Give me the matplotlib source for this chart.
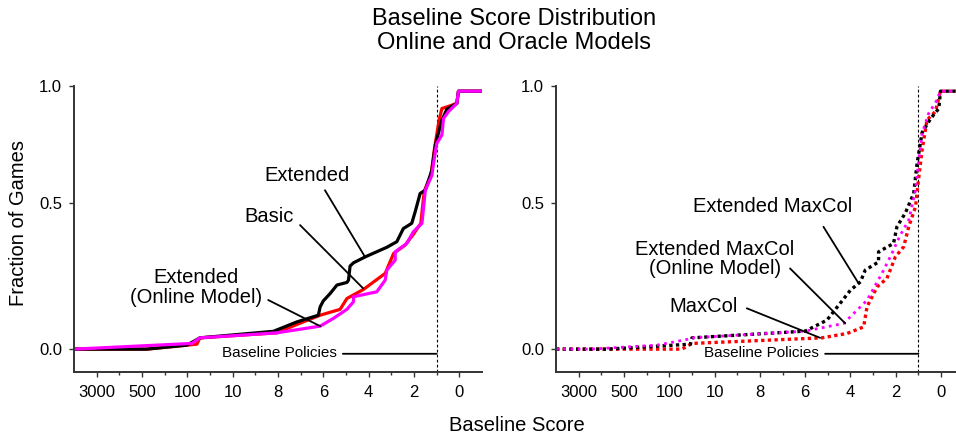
import matplotlib
matplotlib.use("Agg")
import matplotlib.pyplot as plt
import numpy as np

plt.rcParams['font.family'] = ['Liberation Sans', 'DejaVu Sans']

# x axis: baseline score shown on a stretched, reversed scale
score_anchors = [-1, 0, 2, 4, 6, 8, 10, 100, 500, 3000, 4250]
pos_anchors = [8.5, 8, 7, 6, 5, 4, 3, 2, 1, 0, -0.5]
tick_scores = [3000, 500, 100, 10, 8, 6, 4, 2, 0]
tick_labels = ['3000', '500', '100', '10', '8', '6', '4', '2', '0']

# y axis: fraction of games (upper half drawn slightly compressed)
frac_anchors = [-1, 0, 0.5, 1, 2]
frac_pos = [-1.1114, 0, 0.5557, 1, 1.8886]

# left panel: online vs oracle models
basic_s = [4250, 460, 81, 75, 8.06, 7.24, 6.14, 5.26, 4.96, 4.23, 3.27, 2.9, 2.4, 2.05, 1.7,
           1.55, 1.25, 1.1, 0.9, 0.77, 0.48, 0.11, 0.04, -1]
basic_f = [0, 0, 0.017, 0.0386, 0.0557, 0.082, 0.116, 0.136, 0.173, 0.204, 0.259, 0.327, 0.355,
           0.39, 0.43, 0.55, 0.62, 0.73, 0.85, 0.903, 0.912, 0.925, 0.977, 0.977]
ext_s = [4250, 460, 104, 75, 8.2, 7.17, 6.22, 6.14, 6.0, 5.7, 5.4, 4.96, 4.89, 4.82, 4.67, 4.16,
         3.2, 2.76, 2.47, 2.1, 1.95, 1.73, 1.5, 1.21, 1.06, 0.77, 0.55, 0.11, 0.04, -1]
ext_f = [0, 0, 0.0137, 0.0386, 0.061, 0.093, 0.116, 0.1446, 0.165, 0.19, 0.219, 0.228, 0.236,
         0.284, 0.295, 0.315, 0.348, 0.367, 0.412, 0.43, 0.469, 0.54, 0.554, 0.64, 0.747, 0.853,
         0.9, 0.925, 0.977, 0.977]
online_s = [4250, 91, 75, 8.06, 6.14, 5.56, 4.96, 4.67, 4.67, 3.64, 3.27, 3.2, 2.83, 2.83, 2.32,
            2.03, 1.65, 1.5, 1.21, 1.14, 1.0, 0.77, 0.7, 0.48, 0.11, 0.04, -1]
online_f = [0, 0.0195, 0.0386, 0.0557, 0.0786, 0.105, 0.136, 0.162, 0.179, 0.196, 0.236, 0.27,
            0.304, 0.3325, 0.361, 0.401, 0.43, 0.554, 0.618, 0.668, 0.753, 0.79, 0.86, 0.89,
            0.925, 0.977, 0.977]

# right panel: MaxCol variants
maxcol_s = [4250, 74.8, 55, 5.26, 4.15, 3.42, 3.27, 2.82, 2.39, 2.02, 1.65, 1.43, 1.13, 1.0,
            0.84, 0.62, 0.25, 0.03, -1]
maxcol_f = [0, 0, 0.0195, 0.0386, 0.0536, 0.076, 0.145, 0.213, 0.242, 0.315, 0.35, 0.418,
            0.486, 0.597, 0.725, 0.854, 0.89, 0.977, 0.977]
extmax_s = [4250, 1430, 58, 55, 6.0, 5.04, 4.0, 3.56, 3.35, 2.76, 2.76, 2.1, 1.95, 1.58, 1.21,
            1.06, 0.84, 0.46, 0.1, 0.03, -1]
extmax_f = [0, 0, 0.017, 0.0386, 0.0615, 0.099, 0.2016, 0.23, 0.27, 0.298, 0.3325, 0.361,
            0.418, 0.465, 0.54, 0.668, 0.8, 0.86, 0.903, 0.977, 0.977]
extmax_on_s = [4250, 2350, 208, 65, 55, 6.0, 4.3, 3.27, 2.61, 2.17, 1.8, 1.43, 1.13, 1.0, 0.84,
               0.55, 0.18, 0.03, -1]
extmax_on_f = [0, 0, 0.0137, 0.033, 0.0386, 0.0615, 0.088, 0.167, 0.259, 0.327, 0.39, 0.44,
               0.554, 0.668, 0.796, 0.882, 0.939, 0.977, 0.977]


def x_fwd(s):
    return np.interp(s, score_anchors, pos_anchors)


def x_inv(p):
    return np.interp(p, pos_anchors[::-1], score_anchors[::-1])


def y_fwd(f):
    return np.interp(f, frac_anchors, frac_pos)


def y_inv(t):
    return np.interp(t, frac_pos, frac_anchors)


def setup(ax):
    ax.set_xscale('function', functions=(x_fwd, x_inv))
    ax.set_yscale('function', functions=(y_fwd, y_inv))
    # the forward map is decreasing, so low-to-high limits put 3000 on the left
    ax.set_xlim(-1, 4250)
    ax.set_ylim(-0.0774, 1.0)
    ax.set_xticks(tick_scores)
    ax.set_xticklabels(tick_labels)
    ax.set_xticks(x_inv(np.arange(0.5, 8, 1)), minor=True)
    ax.set_yticks([0, 0.5, 1.0])
    ax.set_yticklabels(['0.0', '0.5', '1.0'])
    ax.yaxis.set_minor_locator(matplotlib.ticker.NullLocator())
    for side in ['top', 'right']:
        ax.spines[side].set_visible(False)
    for side in ['left', 'bottom']:
        ax.spines[side].set_linewidth(1.4)
        ax.spines[side].set_color('#333333')
    ax.tick_params(axis='both', which='major', length=3.5, width=1, labelsize=12,
                   color='#333333')
    ax.tick_params(axis='x', which='major', pad=6)
    ax.tick_params(axis='y', which='major', pad=5)
    ax.tick_params(axis='x', which='minor', length=2.5, width=1, color='#333333')
    ax.axvline(1, color='black', lw=0.8, ls=(0, (2.5, 2)))


def label(ax, text, text_xy, start_xy, target):
    ax.text(text_xy[0], text_xy[1], text, transform=ax.transAxes, ha='center', va='center',
            fontsize=14.5, multialignment='center', linespacing=1.05)
    ax.annotate('', xy=target, xycoords='data', xytext=start_xy, textcoords='axes fraction',
                arrowprops=dict(arrowstyle='-', lw=1.3, color='black', shrinkA=0, shrinkB=0))


def baseline_note(ax, text_right, line_start):
    ax.text(text_right, 0.066, 'Baseline Policies', transform=ax.transAxes, ha='right',
            va='center', fontsize=11)
    ax.annotate('', xy=(1, 0.063), xycoords=('data', 'axes fraction'),
                xytext=(line_start, 0.063), textcoords='axes fraction',
                arrowprops=dict(arrowstyle='-', lw=1.3, color='black', shrinkA=0, shrinkB=0))


fig = plt.figure(figsize=(9.56, 4.4), dpi=100)
ax1 = fig.add_axes([0.0774, 0.155, 0.4268, 0.650])
ax2 = fig.add_axes([0.5816, 0.155, 0.4265, 0.650])

for ax in (ax1, ax2):
    setup(ax)

ax1.plot(basic_s, basic_f, color='#ff0000', lw=2.3)
ax1.plot(ext_s, ext_f, color='black', lw=2.3)
ax1.plot(online_s, online_f, color='#ff00ff', lw=2.3)

label(ax1, 'Extended', (0.571, 0.688), (0.615, 0.635), (4.16, 0.315))
label(ax1, 'Basic', (0.478, 0.542), (0.554, 0.513), (4.24, 0.2074))
label(ax1, 'Extended\n(Online Model)', (0.299, 0.294), (0.476, 0.251), (6.14, 0.0786))
baseline_note(ax1, 0.645, 0.659)

ax2.plot(maxcol_s, maxcol_f, color='#ff0000', lw=2.4, ls=(0, (1, 1)))
ax2.plot(extmax_s, extmax_f, color='black', lw=2.4, ls=(0, (1, 1)))
ax2.plot(extmax_on_s, extmax_on_f, color='#ff00ff', lw=2.0, ls=(0, (1, 1.6)))

label(ax2, 'Extended MaxCol', (0.531, 0.577), (0.656, 0.507), (3.64, 0.2245))
label(ax2, 'Extended MaxCol\n(Online Model)', (0.389, 0.394), (0.574, 0.3615), (4.23, 0.088))
label(ax2, 'MaxCol', (0.363, 0.227), (0.468, 0.222), (5.34, 0.0386))
baseline_note(ax2, 0.645, 0.66)

fig.text(0.538, 0.93, 'Baseline Score Distribution\nOnline and Oracle Models', ha='center',
         va='center', fontsize=17, linespacing=1.15)
fig.text(0.019, 0.493, 'Fraction of Games', rotation=90, ha='center', va='center', fontsize=14.5)
fig.text(0.541, 0.034, 'Baseline Score', ha='center', va='center', fontsize=14.5)

fig.savefig('out.png', dpi=100)
